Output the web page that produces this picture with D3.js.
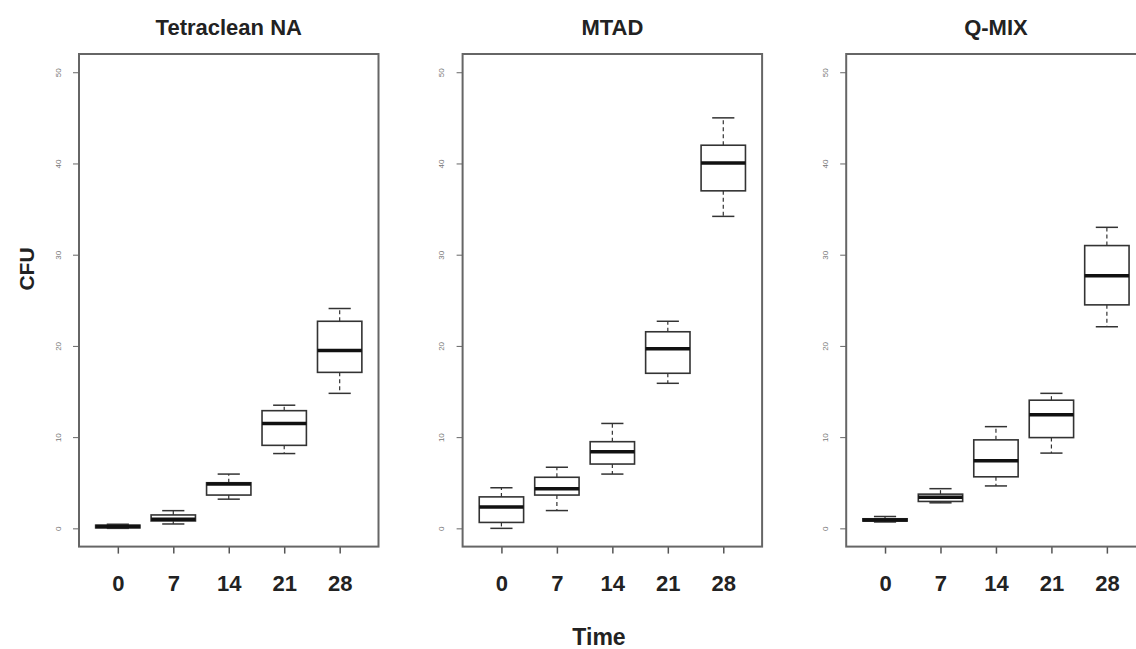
<!DOCTYPE html>
<html>
  <head>
    <meta charset="utf-8">
    <title>CFU box plots</title>
    <style>
      body { margin: 0; background: #fff; }
      text { font-family: "Liberation Sans", Arial, Helvetica, sans-serif; }
    </style>
  </head>
  <body>
    <div class="chart"></div>
    <script src="https://d3js.org/d3.v7.min.js"></script>
    <script>
        var treatments = ["Tetraclean NA", "MTAD", "Q-MIX"];
        var days = ["0", "7", "14", "21", "28"];
        var yTicks = [0, 10, 20, 30, 40, 50];

        // box stats per treatment, one value per day
        var whiskerLow = [
            [0.0, 0.48, 3.2, 8.2, 14.8],
            [0.0, 1.95, 5.95, 15.9, 34.2],
            [0.7, 2.8, 4.65, 8.25, 22.1]
        ];
        var q1 = [
            [0.05, 0.81, 3.65, 9.1, 17.1],
            [0.65, 3.65, 7.05, 17.0, 37.0],
            [0.8, 2.95, 5.65, 9.95, 24.5]
        ];
        var median = [
            [0.2, 1.0, 4.85, 11.5, 19.5],
            [2.35, 4.35, 8.4, 19.7, 40.05],
            [0.92, 3.4, 7.4, 12.45, 27.7]
        ];
        var q3 = [
            [0.35, 1.47, 5.0, 12.9, 22.7],
            [3.45, 5.6, 9.5, 21.55, 42.0],
            [1.05, 3.75, 9.7, 14.05, 31.0]
        ];
        var whiskerHigh = [
            [0.45, 1.94, 5.95, 13.5, 24.1],
            [4.45, 6.7, 11.5, 22.7, 45.0],
            [1.3, 4.35, 11.15, 14.8, 33.0]
        ];

        var w = 1136, h = 649;
        var panelStep = 383.6;
        var frameL = 79, frameR = 378.5, frameT = 54, frameB = 546.6;

        var svg = d3.select(".chart")
            .append("svg")
            .attr("width", w)
            .attr("height", h);

        svg.append("rect").attr("width", w).attr("height", h).attr("fill", "#fff");

        var y = d3.scaleLinear().domain([-2, 52]).range([frameB, frameT]);

        treatments.forEach(function(name, p) {
            var off = p * panelStep;
            var x = d3.scaleLinear().domain([0.3, 5.7]).range([frameL + off, frameR + off]);
            var half = (x(1.4) - x(1));
            var staple = half / 2;

            var g = svg.append("g").attr("class", "panel");

            // y axis with small rotated labels
            var ya = g.append("g")
                .attr("transform", "translate(" + (frameL + off) + ",0)")
                .call(d3.axisLeft(y).tickValues(yTicks).tickSize(6));
            ya.select(".domain").remove();
            ya.selectAll("line").attr("stroke", "#666").attr("stroke-width", 1);
            ya.selectAll("text")
                .attr("transform", "rotate(-90)")
                .attr("x", 0).attr("y", -21).attr("dy", "0.35em")
                .style("text-anchor", "middle")
                .style("font-size", "8px")
                .attr("fill", "#777");

            // x axis
            var xa = g.append("g")
                .attr("transform", "translate(0," + frameB + ")")
                .call(d3.axisBottom(x).tickValues([1, 2, 3, 4, 5])
                    .tickFormat(function(d, i) { return days[i]; })
                    .tickSize(7));
            xa.select(".domain").remove();
            xa.selectAll("line").attr("stroke", "#555").attr("stroke-width", 1.5);
            xa.selectAll("text")
                .attr("y", 44).attr("dy", 0)
                .style("font-size", "22px")
                .style("font-weight", "bold")
                .attr("fill", "#222");

            // boxes
            var idx = d3.range(days.length);
            var b = g.selectAll(".box").data(idx).enter().append("g").attr("class", "box");

            // dashed whiskers
            b.append("line")
                .attr("x1", function(i) { return x(i + 1); })
                .attr("x2", function(i) { return x(i + 1); })
                .attr("y1", function(i) { return y(q3[p][i]); })
                .attr("y2", function(i) { return y(whiskerHigh[p][i]); })
                .attr("stroke", "#333").attr("stroke-width", 1.2)
                .attr("stroke-dasharray", "4,3");
            b.append("line")
                .attr("x1", function(i) { return x(i + 1); })
                .attr("x2", function(i) { return x(i + 1); })
                .attr("y1", function(i) { return y(q1[p][i]); })
                .attr("y2", function(i) { return y(whiskerLow[p][i]); })
                .attr("stroke", "#333").attr("stroke-width", 1.2)
                .attr("stroke-dasharray", "4,3");

            // staples
            [whiskerHigh, whiskerLow].forEach(function(arr) {
                b.append("line")
                    .attr("x1", function(i) { return x(i + 1) - staple; })
                    .attr("x2", function(i) { return x(i + 1) + staple; })
                    .attr("y1", function(i) { return y(arr[p][i]); })
                    .attr("y2", function(i) { return y(arr[p][i]); })
                    .attr("stroke", "#333").attr("stroke-width", 1.5);
            });

            b.append("rect")
                .attr("x", function(i) { return x(i + 1) - half; })
                .attr("width", half * 2)
                .attr("y", function(i) { return y(q3[p][i]); })
                .attr("height", function(i) { return y(q1[p][i]) - y(q3[p][i]); })
                .attr("fill", "#fff")
                .attr("stroke", "#333").attr("stroke-width", 1.6);

            b.append("line")
                .attr("x1", function(i) { return x(i + 1) - half; })
                .attr("x2", function(i) { return x(i + 1) + half; })
                .attr("y1", function(i) { return y(median[p][i]); })
                .attr("y2", function(i) { return y(median[p][i]); })
                .attr("stroke", "#111").attr("stroke-width", 3.5);

            // frame
            g.append("rect")
                .attr("x", frameL + off).attr("y", frameT)
                .attr("width", frameR - frameL).attr("height", frameB - frameT)
                .attr("fill", "none")
                .attr("stroke", "#666").attr("stroke-width", 2);

            // title
            g.append("text")
                .attr("x", (frameL + frameR) / 2 + off)
                .attr("y", 35)
                .style("text-anchor", "middle")
                .style("font-size", "22px")
                .style("font-weight", "bold")
                .attr("fill", "#222")
                .text(name);
        });

        svg.append("text")
            .attr("transform", "translate(34,269) rotate(-90)")
            .style("text-anchor", "middle")
            .style("font-size", "21px")
            .style("font-weight", "bold")
            .attr("fill", "#222")
            .text("CFU");

        svg.append("text")
            .attr("x", 599).attr("y", 645)
            .style("text-anchor", "middle")
            .style("font-size", "23px")
            .style("font-weight", "bold")
            .attr("fill", "#222")
            .text("Time");
    </script>
  </body>
</html>
